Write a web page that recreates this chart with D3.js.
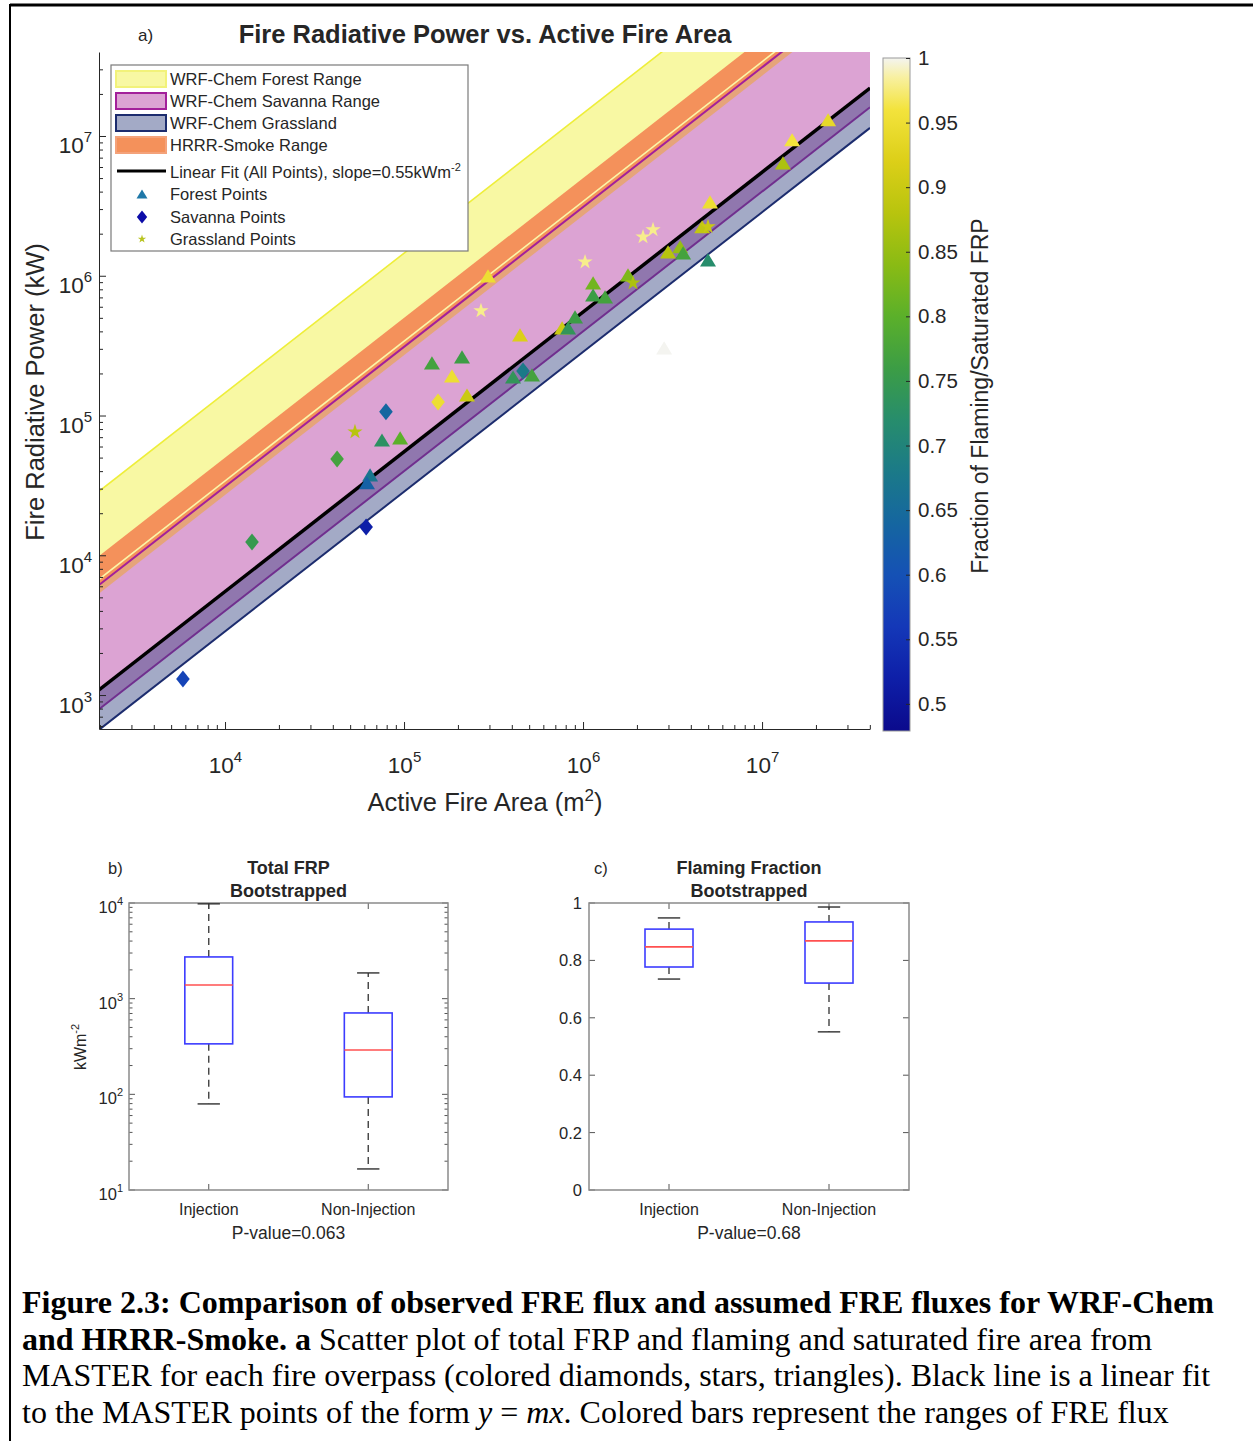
<!DOCTYPE html>
<html>
<head>
<meta charset="utf-8">
<script src="https://cdn.jsdelivr.net/npm/d3@7"></script>
<style>
  body { margin: 0; background: #fff; }
  svg { display: block; }
  text { font-family: "Liberation Sans", Arial, sans-serif; fill: #262626; }
  .cap text, text.cap { font-family: "Liberation Serif", "Times New Roman", serif; fill: #000; }
</style>
</head>
<body>
<svg id="fig" width="1253" height="1441"></svg>
<script>
// ---- data ----
const forestArea = [64600, 62100, 75300, 95100, 143200, 210800, 185300, 224800, 294500, 444600,
  406400, 518600, 763800, 824800, 902000, 1138000, 1138000, 1327000, 1783000, 2985000,
  3485000, 3622000, 4627000, 5120000, 4990000, 13090000, 14720000, 23390000, 2838000];
const forestFRP = [37600, 33000, 66800, 69200, 238000, 263000, 192000, 140300, 998000, 377600,
  188800, 195400, 423600, 423600, 508000, 889000, 729000, 706000, 1014000, 1483000,
  1611000, 1459000, 2240000, 3381000, 1300000, 6427000, 9400000, 13060000, 304800];
const forestFrac = [0.67, 0.63, 0.73, 0.80, 0.77, 0.76, 0.95, 0.90, 0.95, 0.92,
  0.74, 0.77, 0.90, 0.74, 0.76, 0.82, 0.76, 0.77, 0.83, 0.88,
  0.85, 0.77, 0.89, 0.95, 0.72, 0.87, 0.96, 0.94, 1.0];

const savannaArea = [5820, 61400, 14150, 42270, 79250, 154900, 462000];
const savannaFRP = [1300, 15960, 12450, 48870, 106200, 125000, 208500];
const savannaFrac = [0.58, 0.52, 0.75, 0.77, 0.64, 0.95, 0.68];

const grassArea = [53200, 269000, 1026000, 2163000, 2460000, 1901000, 4990000];
const grassFRP = [76400, 561000, 1256000, 1897000, 2133000, 889000, 2240000];
const grassFrac = [0.88, 0.98, 0.98, 0.98, 0.98, 0.87, 0.90];

const fitSlope = 0.55;               // kW m-2
const forestRange = [3.4, 14.5];
const savannaRange = [0.4, 3.1];
const grassRange = [0.285, 0.56];
const hrrrRange = [2.7, 5];

const legendLabels = ["WRF-Chem Forest Range", "WRF-Chem Savanna Range", "WRF-Chem Grassland", "HRRR-Smoke Range"];
const colorTicks = [0.5, 0.55, 0.6, 0.65, 0.7, 0.75, 0.8, 0.85, 0.9, 0.95, 1];

const boxGroups = ["Injection", "Non-Injection"];
// [lower whisker, q1, median, q3, upper whisker]
const frpStats = [[79.4, 337, 1390, 2730, 9800], [16.6, 94, 291, 709, 1858]];
const flamStats = [[0.735, 0.777, 0.847, 0.909, 0.948], [0.551, 0.721, 0.868, 0.934, 0.986]];
const pValues = ["0.063", "0.68"];
const fracTicks = [0, 0.2, 0.4, 0.6, 0.8, 1];

// colormap stops (value -> colour)
const cmapVals = [0.479, 0.52, 0.56, 0.60, 0.64, 0.68, 0.72, 0.76, 0.80, 0.84, 0.88, 0.92, 0.96, 0.985, 1.0];
const cmapCols = ["#0b0a8c", "#0e1fa8", "#1438b8", "#1551b5", "#1566a0", "#1b7a88", "#278d6c", "#3c9d45",
  "#5bb02a", "#8abb14", "#b8c40e", "#dccf18", "#f3e33c", "#f8f0a0", "#f4f4f0"];

// ---- helpers ----
const svg = d3.select("#fig");
const cmap = d3.scaleLinear().domain(cmapVals).range(cmapCols).clamp(true);

function logTicks(lo, hi) {
  let out = [];
  for (let e = Math.floor(Math.log10(lo)); e <= Math.ceil(Math.log10(hi)); e++) {
    for (let k = 1; k < 10; k++) {
      const v = k * Math.pow(10, e);
      if (v >= lo * 0.999 && v <= hi * 1.001) out.push(v);
    }
  }
  return out;
}
const isMajor = v => Math.abs(Math.log10(v) - Math.round(Math.log10(v))) < 1e-6;

function powLabel(sel, exp, baseSize, supSize, supDy) {
  sel.append("tspan").text("10").attr("font-size", baseSize);
  sel.append("tspan").text(exp).attr("font-size", supSize).attr("dy", supDy);
}

const triangle = {
  draw(ctx, size) {
    const w = size, h = size * 0.82;
    ctx.moveTo(0, -h / 2); ctx.lineTo(w / 2, h / 2); ctx.lineTo(-w / 2, h / 2); ctx.closePath();
  }
};
const diamond = {
  draw(ctx, size) {
    const w = size * 0.8, h = size;
    ctx.moveTo(0, -h / 2); ctx.lineTo(w / 2, 0); ctx.lineTo(0, h / 2); ctx.lineTo(-w / 2, 0); ctx.closePath();
  }
};

// ---- figure border ----
svg.append("line").attr("x1", 10).attr("x2", 1253).attr("y1", 5).attr("y2", 5).attr("stroke", "#000").attr("stroke-width", 3);
svg.append("line").attr("x1", 10).attr("x2", 10).attr("y1", 4).attr("y2", 1441).attr("stroke", "#000").attr("stroke-width", 2);

// ================= panel a =================
const x = d3.scaleLog().domain([Math.pow(10, 3.296), Math.pow(10, 7.603)]).range([99, 870]);
const y = d3.scaleLog().domain([Math.pow(10, 2.757), Math.pow(10, 7.601)]).range([729, 52]);
const [xa, xb] = x.domain();

svg.append("clipPath").attr("id", "clipA").append("rect")
  .attr("x", 99).attr("y", 52).attr("width", 771).attr("height", 677);
const pa = svg.append("g").attr("clip-path", "url(#clipA)");

const line = d3.line().x(d => x(d[0])).y(d => y(d[1]));
const bandPath = r => line([[xa, r[0] * xa], [xb, r[0] * xb], [xb, r[1] * xb], [xa, r[1] * xa]]) + "Z";
const edgePath = m => line([[xa, m * xa], [xb, m * xb]]);

pa.append("path").attr("d", bandPath(savannaRange)).attr("fill", "#dca3d3");
pa.append("path").attr("d", bandPath(forestRange)).attr("fill", "#f8f8a3");
pa.append("path").attr("d", edgePath(savannaRange[0])).attr("fill", "none").attr("stroke", "#a3209a").attr("stroke-width", 2);
pa.append("path").attr("d", bandPath(grassRange)).attr("fill", "rgb(51,67,129)").attr("fill-opacity", 0.45);
pa.append("path").attr("d", edgePath(grassRange[0])).attr("fill", "none").attr("stroke", "#1c2c6e").attr("stroke-width", 2);
// HRRR band: part over forest/gap is orange, part over savanna is tan
pa.append("path").attr("d", bandPath([savannaRange[1], hrrrRange[1]])).attr("fill", "#f4915b");
pa.append("path").attr("d", bandPath([hrrrRange[0], savannaRange[1]])).attr("fill", "#e6a47a");
pa.append("path").attr("d", edgePath(forestRange[1])).attr("fill", "none").attr("stroke", "#eeee3a").attr("stroke-width", 1.6);
pa.append("path").attr("d", edgePath(forestRange[0])).attr("fill", "none").attr("stroke", "#fbf6a8").attr("stroke-width", 1.6);
pa.append("path").attr("d", edgePath(savannaRange[1])).attr("fill", "none").attr("stroke", "#a3209a").attr("stroke-width", 2);
pa.append("path").attr("d", edgePath(fitSlope)).attr("fill", "none").attr("stroke", "#000").attr("stroke-width", 3.5);

// points
const savPts = savannaArea.map((a, i) => ({ a, f: savannaFRP[i], c: savannaFrac[i] }));
const grassPts = grassArea.map((a, i) => ({ a, f: grassFRP[i], c: grassFrac[i] }));
const forPts = forestArea.map((a, i) => ({ a, f: forestFRP[i], c: forestFrac[i] }));

pa.append("g").selectAll("path").data(savPts).join("path")
  .attr("transform", d => `translate(${x(d.a)},${y(d.f)})`)
  .attr("d", d3.symbol().type(diamond).size(17)())
  .attr("fill", d => cmap(d.c));
pa.append("g").selectAll("path").data(forPts).join("path")
  .attr("transform", d => `translate(${x(d.a)},${y(d.f)})`)
  .attr("d", d3.symbol().type(triangle).size(16)())
  .attr("fill", d => cmap(d.c));
pa.append("g").selectAll("path").data(grassPts).join("path")
  .attr("transform", d => `translate(${x(d.a)},${y(d.f)})`)
  .attr("d", d3.symbol().type(d3.symbolStar).size(72)())
  .attr("fill", d => cmap(d.c));

// axes
const xTicks = logTicks(xa, xb);
const gx = svg.append("g").attr("transform", "translate(0,729)")
  .call(d3.axisBottom(x).tickValues(xTicks).tickSizeInner(-7).tickSizeOuter(0).tickFormat(""));
gx.selectAll(".tick line").attr("y2", d => isMajor(d) ? -7 : -4).attr("stroke", "#262626");
gx.select(".domain").attr("stroke", "#262626");
gx.selectAll(".tick").filter(d => isMajor(d)).append("text")
  .attr("y", 44).attr("text-anchor", "middle").attr("fill", "#262626")
  .each(function (d) { powLabel(d3.select(this), Math.round(Math.log10(d)), 22.5, 15, -11); });

const [ya, yb] = y.domain();
const yTicks = logTicks(ya, yb);
const gy = svg.append("g").attr("transform", "translate(99,0)")
  .call(d3.axisLeft(y).tickValues(yTicks).tickSizeInner(-7).tickSizeOuter(0).tickFormat(""));
gy.selectAll(".tick line").attr("x2", d => isMajor(d) ? 7 : 4).attr("stroke", "#262626");
gy.select(".domain").attr("stroke", "#262626");
gy.selectAll(".tick").filter(d => isMajor(d)).append("text")
  .attr("x", -7).attr("y", 17).attr("text-anchor", "end").attr("fill", "#262626")
  .each(function (d) { powLabel(d3.select(this), Math.round(Math.log10(d)), 22.5, 15, -11); });

// titles / labels
svg.append("text").attr("x", 485).attr("y", 43).attr("text-anchor", "middle")
  .attr("font-size", 25.5).attr("font-weight", "bold").attr("fill", "#000")
  .text("Fire Radiative Power vs. Active Fire Area");
svg.append("text").attr("x", 138).attr("y", 41).attr("font-size", 17).text("a)");
svg.append("text").attr("transform", "translate(44,392) rotate(-90)").attr("text-anchor", "middle")
  .attr("font-size", 25.5).text("Fire Radiative Power (kW)");
const xl = svg.append("text").attr("x", 485).attr("y", 811).attr("text-anchor", "middle").attr("font-size", 25.5);
xl.append("tspan").text("Active Fire Area (m");
xl.append("tspan").text("2").attr("font-size", 17).attr("dy", -10);
xl.append("tspan").text(")").attr("dy", 10);

// legend
const lg = svg.append("g");
lg.append("rect").attr("x", 111).attr("y", 65).attr("width", 357).attr("height", 186)
  .attr("fill", "#fff").attr("stroke", "#7a7a7a").attr("stroke-width", 1.2);
const patchFill = ["#f8f8a3", "#dca3d3", "#a3aac6", "#f4915b"];
const patchEdge = ["#f2f27a", "#a3209a", "#1c2c6e", "#f4a27a"];
legendLabels.forEach((t, i) => {
  const cy = 79 + i * 22;
  lg.append("rect").attr("x", 116).attr("y", cy - 8).attr("width", 50).attr("height", 16)
    .attr("fill", patchFill[i]).attr("stroke", patchEdge[i]).attr("stroke-width", 2);
  lg.append("text").attr("x", 170).attr("y", cy + 6).attr("font-size", 16.5).text(t);
});
lg.append("line").attr("x1", 117).attr("x2", 166).attr("y1", 171).attr("y2", 171).attr("stroke", "#000").attr("stroke-width", 3);
const lt = lg.append("text").attr("x", 170).attr("y", 178).attr("font-size", 16.5);
lt.append("tspan").text("Linear Fit (All Points), slope=" + fitSlope + "kWm");
lt.append("tspan").text("-2").attr("font-size", 11).attr("dy", -7);
const legPts = [
  { t: "Forest Points", y: 194, type: triangle, size: 11, col: "#1f78a8" },
  { t: "Savanna Points", y: 217, type: diamond, size: 13, col: "#0c0ca8" },
  { t: "Grassland Points", y: 239, type: d3.symbolStar, size: 22, col: "#b8c420" }
];
legPts.forEach(p => {
  lg.append("path").attr("transform", `translate(142,${p.y})`)
    .attr("d", d3.symbol().type(p.type).size(p.size)()).attr("fill", p.col);
  lg.append("text").attr("x", 170).attr("y", p.y + 6).attr("font-size", 16.5).text(p.t);
});

// colorbar
const cb = d3.scaleLinear().domain([0.479, 1.0]).range([731, 58]);
const grad = svg.append("defs").append("linearGradient").attr("id", "cbar")
  .attr("x1", 0).attr("x2", 0).attr("y1", 1).attr("y2", 0);
cmapVals.forEach((v, i) => {
  grad.append("stop").attr("offset", (v - 0.479) / (1 - 0.479)).attr("stop-color", cmapCols[i]);
});
svg.append("rect").attr("x", 883).attr("y", 58).attr("width", 27).attr("height", 673)
  .attr("fill", "url(#cbar)").attr("stroke", "#9a9a9a").attr("stroke-width", 1);
const gc = svg.append("g").attr("transform", "translate(910,0)")
  .call(d3.axisRight(cb).tickValues(colorTicks).tickSizeInner(-4).tickSizeOuter(0).tickPadding(8)
    .tickFormat(d => d3.format("~g")(d)));
gc.select(".domain").remove();
gc.selectAll(".tick line").attr("stroke", "#262626");
gc.selectAll(".tick text").attr("font-size", 20.5).attr("fill", "#262626").attr("font-family", "Liberation Sans, Arial, sans-serif");
svg.append("text").attr("transform", "translate(988,396) rotate(-90)").attr("text-anchor", "middle")
  .attr("font-size", 23).text("Fraction of Flaming/Saturated FRP");

// ================= box plots =================
function boxPanel(opt) {
  const { x0, x1, y0, y1, yScale, stats, title, tag, pval } = opt;
  const xs = d3.scaleLinear().domain([0.5, 2.5]).range([x0, x1]);
  const g = svg.append("g");
  // ticks
  const yt = opt.log ? logTicks(yScale.domain()[0], yScale.domain()[1]) : fracTicks;
  yt.forEach(v => {
    const len = (!opt.log || isMajor(v)) ? 6 : 3.5;
    const py = yScale(v);
    g.append("line").attr("x1", x0).attr("x2", x0 + len).attr("y1", py).attr("y2", py).attr("stroke", "#555");
    g.append("line").attr("x1", x1).attr("x2", x1 - len).attr("y1", py).attr("y2", py).attr("stroke", "#555");
  });
  [1, 2].forEach(c => {
    g.append("line").attr("x1", xs(c)).attr("x2", xs(c)).attr("y1", y1).attr("y2", y1 - 6).attr("stroke", "#555");
    g.append("line").attr("x1", xs(c)).attr("x2", xs(c)).attr("y1", y0).attr("y2", y0 + 6).attr("stroke", "#555");
  });
  g.append("rect").attr("x", x0).attr("y", y0).attr("width", x1 - x0).attr("height", y1 - y0)
    .attr("fill", "none").attr("stroke", "#8a8a8a").attr("stroke-width", 1.5);
  // tick labels
  if (opt.log) {
    yt.filter(isMajor).forEach(v => {
      const t = g.append("text").attr("x", x0 - 6).attr("y", yScale(v) + 10).attr("text-anchor", "end");
      powLabel(t, Math.round(Math.log10(v)), 16.5, 11, -8);
    });
  } else {
    yt.forEach(v => {
      g.append("text").attr("x", x0 - 7).attr("y", yScale(v) + 6).attr("text-anchor", "end")
        .attr("font-size", 16.5).text(d3.format("~g")(v));
    });
  }
  // boxes
  const hw = xs(0.15) - xs(0), cw = xs(0.07) - xs(0);
  stats.forEach((s, i) => {
    const cx = xs(i + 1);
    const [lo, q1, md, q3, hi] = s.map(yScale);
    g.append("line").attr("x1", cx).attr("x2", cx).attr("y1", q3).attr("y2", hi)
      .attr("stroke", "#404040").attr("stroke-width", 1.4).attr("stroke-dasharray", "7,5");
    g.append("line").attr("x1", cx).attr("x2", cx).attr("y1", q1).attr("y2", lo)
      .attr("stroke", "#404040").attr("stroke-width", 1.4).attr("stroke-dasharray", "7,5");
    [lo, hi].forEach(v => g.append("line").attr("x1", cx - cw).attr("x2", cx + cw).attr("y1", v).attr("y2", v)
      .attr("stroke", "#303030").attr("stroke-width", 1.4));
    g.append("rect").attr("x", cx - hw).attr("y", q3).attr("width", 2 * hw).attr("height", q1 - q3)
      .attr("fill", "none").attr("stroke", "#3c3cff").attr("stroke-width", 1.6);
    g.append("line").attr("x1", cx - hw).attr("x2", cx + hw).attr("y1", md).attr("y2", md)
      .attr("stroke", "#ff5050").attr("stroke-width", 1.6);
    g.append("text").attr("x", cx).attr("y", y1 + 25).attr("text-anchor", "middle").attr("font-size", 16).text(boxGroups[i]);
  });
  const mid = (x0 + x1) / 2;
  g.append("text").attr("x", mid).attr("y", y1 + 49).attr("text-anchor", "middle").attr("font-size", 17.5).text("P-value=" + pval);
  g.append("text").attr("x", mid).attr("y", 874).attr("text-anchor", "middle").attr("font-size", 18)
    .attr("font-weight", "bold").attr("fill", "#000").text(title);
  g.append("text").attr("x", mid).attr("y", 897).attr("text-anchor", "middle").attr("font-size", 18)
    .attr("font-weight", "bold").attr("fill", "#000").text("Bootstrapped");
  g.append("text").attr("x", opt.tagX).attr("y", 874).attr("font-size", 16.5).text(tag);
  return g;
}

const ybx = d3.scaleLog().domain([10, 1e4]).range([1190, 903]);
const gB = boxPanel({ x0: 129, x1: 448, y0: 903, y1: 1190, yScale: ybx, stats: frpStats, log: true,
  title: "Total FRP", tag: "b)", tagX: 108, pval: pValues[0] });
const yl = gB.append("text").attr("transform", "translate(86,1047) rotate(-90)").attr("text-anchor", "middle").attr("font-size", 16);
yl.append("tspan").text("kWm");
yl.append("tspan").text("-2").attr("font-size", 11).attr("dy", -7);

const ycx = d3.scaleLinear().domain([0, 1]).range([1190, 903]);
boxPanel({ x0: 589, x1: 909, y0: 903, y1: 1190, yScale: ycx, stats: flamStats, log: false,
  title: "Flaming Fraction", tag: "c)", tagX: 594, pval: pValues[1] });

// ================= caption =================
const cap = svg.append("g").attr("class", "cap");
const capSize = 32;
const capLines = [
  [["Figure 2.3: Comparison of observed FRE flux and assumed FRE fluxes for WRF-Chem", "bold", "normal"]],
  [["and HRRR-Smoke. a", "bold", "normal"], [" Scatter plot of total FRP and flaming and saturated fire area from", "normal", "normal"]],
  [["MASTER for each fire overpass (colored diamonds, stars, triangles). Black line is a linear fit", "normal", "normal"]],
  [["to the MASTER points of the form ", "normal", "normal"], ["y", "normal", "italic"], [" = ", "normal", "normal"],
   ["mx", "normal", "italic"], [". Colored bars represent the ranges of FRE flux", "normal", "normal"]]
];
capLines.forEach((parts, i) => {
  const t = cap.append("text").attr("x", 22).attr("y", 1313 + i * 36.6).attr("font-size", capSize)
    .attr("xml:space", "preserve").style("white-space", "pre");
  parts.forEach(p => t.append("tspan").text(p[0]).attr("font-weight", p[1]).attr("font-style", p[2]));
});
</script>
</body>
</html>
